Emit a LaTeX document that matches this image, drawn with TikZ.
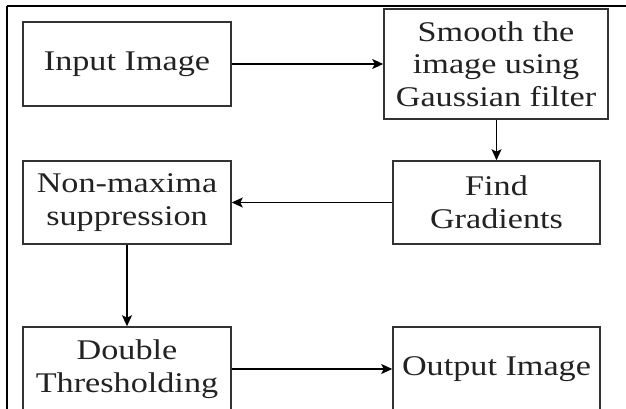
\documentclass[tikz,border=0pt]{standalone}
\usepackage{fontspec}
\setmainfont{Liberation Serif}
\newfontfamily\boxfont[FakeStretch=1.2]{Liberation Serif}
\usetikzlibrary{arrows.meta}
\definecolor{boxline}{HTML}{333333}
\definecolor{boxtext}{HTML}{222222}
\tikzset{
  stepbox/.style={draw=boxline, line width=1.5pt, rectangle, inner sep=0pt,
    align=center, text=boxtext,
    font=\boxfont\fontsize{28.5}{32.5}\selectfont},
  flow/.style={line width=1.3pt, -{Stealth[length=11pt,width=10pt,inset=2.5pt]}},
  frame/.style={line width=2.5pt, black}
}
\begin{document}
\begin{tikzpicture}[x=1pt,y=-1pt]
  \useasboundingbox (0,0) rectangle (626,409);
  \clip (0,0) rectangle (626,409);
  \fill[white] (0,0) rectangle (626,409);
  % outer frame (top and left rules)
  \draw[frame] (7,6) -- (630,6);
  \draw[frame] (7,6) -- (7,412);
  % processing steps
  \node[stepbox, minimum width=208pt, minimum height=84pt] (input) at (127,64) {Input Image};
  \node[stepbox, minimum width=224pt, minimum height=110pt] (smooth) at (496,64) {Smooth the\\image using\\Gaussian filter};
  \node[stepbox, minimum width=207pt, minimum height=83pt] (grad) at (496.5,202.5) {Find\\Gradients};
  \node[stepbox, minimum width=208pt, minimum height=83pt] (nms) at (127,202.5) {Non-maxima\\suppression};
  \node[stepbox, minimum width=208pt, minimum height=84pt] (thresh) at (127,369) {Double\\Thresholding};
  \node[stepbox, minimum width=207pt, minimum height=84pt] (output) at (496.5,369) {Output Image};
  % connectors
  \draw[flow] (input.east) -- (smooth.west |- input.east);
  \draw[flow] (smooth.south -| grad.north) -- (grad.north);
  \draw[flow] (grad.west) -- (nms.east);
  \draw[flow] (nms.south) -- (thresh.north);
  \draw[flow] (thresh.east) -- (output.west);
\end{tikzpicture}
\end{document}
